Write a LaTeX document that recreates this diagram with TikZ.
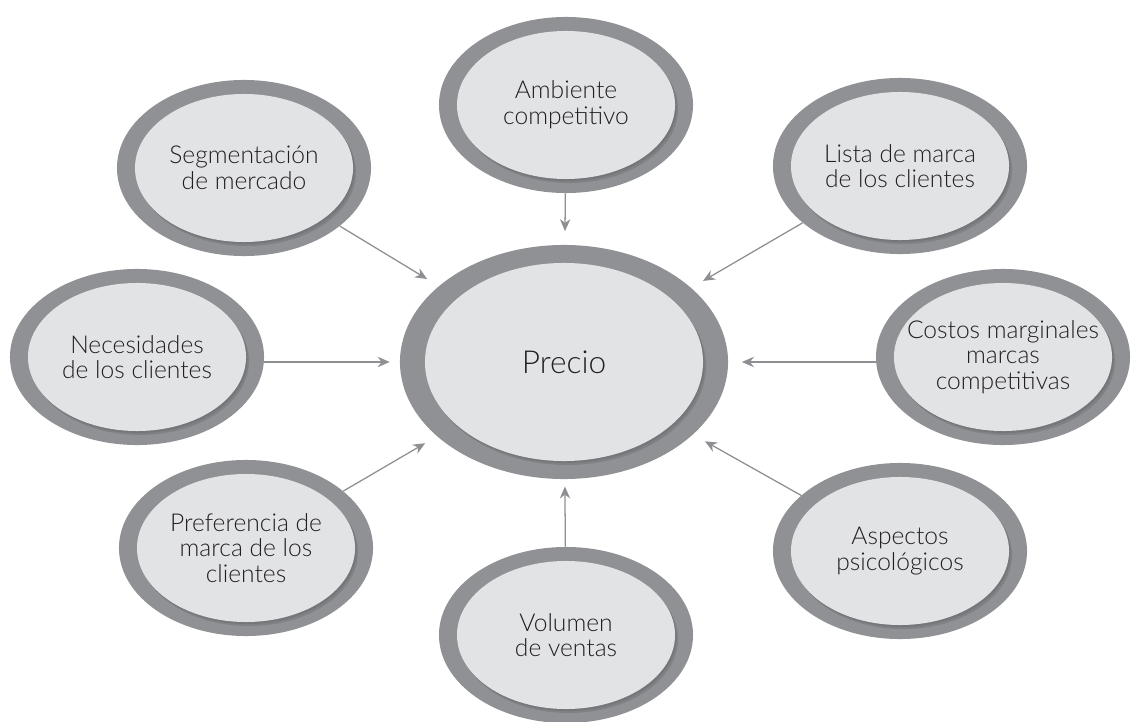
\documentclass[tikz,border=0pt]{standalone}
\usepackage{fontspec}
\setmainfont{Lato Light}
\usetikzlibrary{shapes.geometric,arrows.meta}
\definecolor{ringgray}{HTML}{909195}
\definecolor{coregray}{HTML}{E2E3E5}
\definecolor{shadegray}{HTML}{5E5F63}
\definecolor{txt}{HTML}{231F20}
\definecolor{arrowgray}{HTML}{8E8F93}
\tikzset{
  ring/.style={ellipse, fill=ringgray, inner sep=0pt, minimum width=6.35cm, minimum height=4.4cm},
  core/.style={ellipse, fill=coregray, inner sep=0pt, minimum width=5.45cm, minimum height=3.7cm},
  coreshade/.style={ellipse, fill=shadegray, fill opacity=0.3, inner sep=0pt, minimum width=5.45cm, minimum height=3.7cm},
  lbl/.style={align=center, text=txt, inner sep=0pt, font=\fontsize{17.5}{18.2}\selectfont},
  arr/.style={draw=arrowgray, line width=0.9pt, -{Stealth[length=0.3cm, width=0.26cm]}, shorten >=0.34cm},
}
\newcommand\satnode[3]{%
  \node[ring] (#1) at (#2) {};
  \node[coreshade] at ([shift={(3,4)}]#1.center) {};
  \node[coreshade] at ([shift={(1.5,2)}]#1.center) {};
  \node[core] (#1c) at (#1.center) {};
  \node[lbl] (#1t) at (#1.center) {#3};
}
\begin{document}
\begin{tikzpicture}[x=0.025cm, y=-0.025cm]
\useasboundingbox (0,0) rectangle (1131,722);
% centre
\node[ring, minimum width=8.2cm, minimum height=5.85cm] (p) at (564,362) {};
\node[coreshade, minimum width=6.95cm, minimum height=4.95cm] at ([shift={(3,4)}]p.center) {};
\node[coreshade, minimum width=6.95cm, minimum height=4.95cm] at ([shift={(1.5,2)}]p.center) {};
\node[core, minimum width=6.95cm, minimum height=4.95cm] (pc) at (p.center) {};
\node[lbl, font=\fontsize{22.5}{24}\selectfont] (pt) at (p.center) {Precio};
% satellites
\satnode{amb}{566,105}{Ambiente\\competitivo}
\satnode{seg}{244,168}{Segmentación\\de mercado}
\satnode{lis}{900,166}{Lista de marca\\de los clientes}
\satnode{nec}{137,357}{Necesidades\\de los clientes}
\satnode{cos}{1003,357}{Costos marginales\\marcas\\competitivas}
\satnode{pre}{246,548}{Preferencia de\\marca de los\\clientes}
\satnode{asp}{900,551}{Aspectos\\psicológicos}
\satnode{vol}{566,635}{Volumen\\de ventas}
% arrows
\draw[arr] (amb) -- (p);
\draw[arr] (seg) -- (p);
\draw[arr] (lis) -- (p);
\draw[arr, shorten >=0.25cm] (nec.east |- p) -- (p.west);
\draw[arr] (cos.west |- p) -- (p.east);
\draw[arr] (pre) -- (p);
\draw[arr] (asp) -- (p);
\draw[arr, shorten >=0.18cm] (vol) -- (p);
\end{tikzpicture}
\end{document}
